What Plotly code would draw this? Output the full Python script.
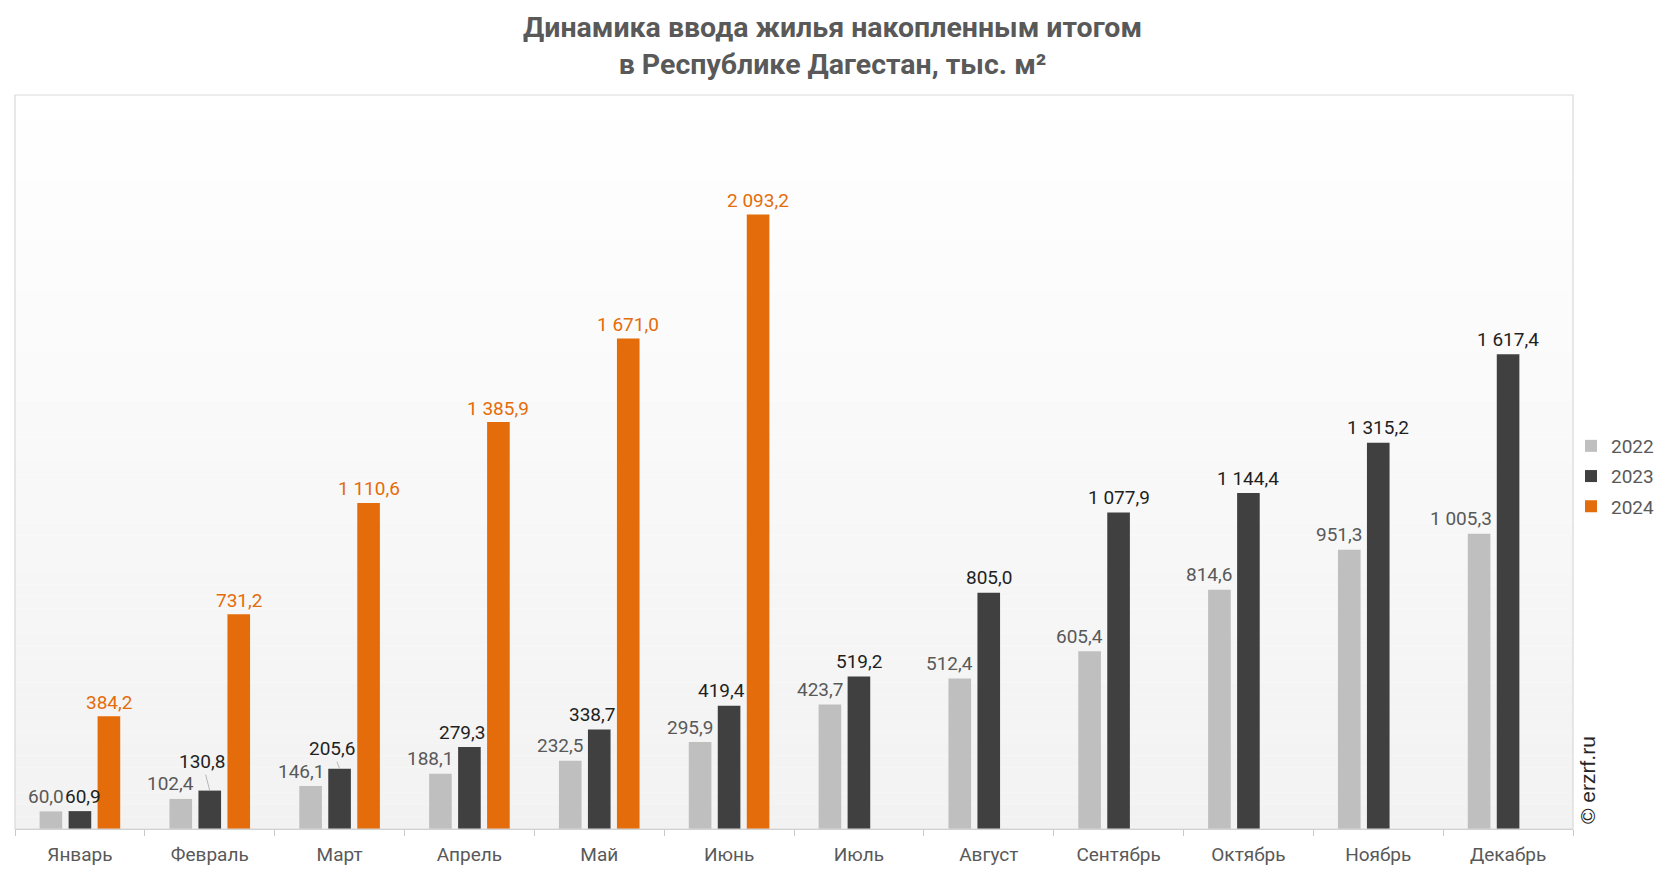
import plotly.graph_objects as go

# ---------------- data ----------------
months = ["Январь", "Февраль", "Март", "Апрель", "Май", "Июнь",
          "Июль", "Август", "Сентябрь", "Октябрь", "Ноябрь", "Декабрь"]
years = ["2022", "2023", "2024"]
v2022 = [60.0, 102.4, 146.1, 188.1, 232.5, 295.9, 423.7, 512.4, 605.4, 814.6, 951.3, 1005.3]
v2023 = [60.9, 130.8, 205.6, 279.3, 338.7, 419.4, 519.2, 805.0, 1077.9, 1144.4, 1315.2, 1617.4]
v2024 = [384.2, 731.2, 1110.6, 1385.9, 1671.0, 2093.2, None, None, None, None, None, None]
title_lines = ["Динамика ввода жилья накопленным итогом", "в Республике Дагестан, тыс. м²"]
watermark = "© erzrf.ru"

# ---------------- style ----------------
OFF = 8                      # page body margin of the html page
W, H = 1666 - OFF, 872 - OFF
# plot area in page pixels: x 15..1573, y 95..829
ML, MT = 15 - OFF, 95 - OFF
MR, MB = (1666 - 1573), (872 - 829)
PW, PH = W - ML - MR, H - MT - MB
bar_colors = ["#BFBFBF", "#404040", "#E46C0A"]
label_colors = ["#595959", "#1F1F1F", "#E46C0A"]
FONT = "Roboto, 'Noto Sans', sans-serif"
PITCH = 29  # px between neighbouring bars of a group
FS = 19


def px_x(page_x):
    return (page_x - OFF - ML) / PW


def px_y(page_y):
    return (H - MB - (page_y - OFF)) / PH


def fmt(v):
    s = f"{v:,.1f}"
    return s.replace(",", " ").replace(".", ",")


fig = go.Figure()
for name, vals, col in zip(years, [v2022, v2023, v2024], bar_colors):
    fig.add_trace(go.Bar(
        x=months, y=vals, name=name, legendgroup=name,
        marker=dict(color=col, line=dict(width=0)),
        hoverinfo="skip",
    ))

# gradient background of plot area (white -> light grey)
shapes = []
NB = 60
for i in range(NB):
    t = (i + 0.5) / NB  # 0 at top, 1 at bottom
    c = round(255 - (255 - 242) * t)
    shapes.append(dict(
        type="rect", xref="paper", yref="paper", layer="below",
        x0=0, x1=1, y0=1 - (i + 1) / NB, y1=1 - i / NB,
        fillcolor=f"rgb({c},{c},{c})", line=dict(width=0),
    ))
# border of plot area
shapes.append(dict(type="rect", xref="paper", yref="paper", layer="above",
                   x0=0, x1=1, y0=0, y1=1,
                   line=dict(color="#D9D9D9", width=1.2), fillcolor="rgba(0,0,0,0)"))

annotations = []
# title
annotations.append(dict(
    x=px_x(832), y=px_y(46), xref="paper", yref="paper",
    text="<b>" + title_lines[0] + "</b><br><b>" + title_lines[1] + "</b>",
    showarrow=False, xanchor="center", yanchor="middle", align="center",
    font=dict(family=FONT, size=28.5, color="#595959"),
))
# 2022 labels (right-aligned near bar)
for m, v in zip(months, v2022):
    annotations.append(dict(
        x=m, y=v, xref="x", yref="y", text=fmt(v), showarrow=False,
        xanchor="right", yanchor="middle", xshift=-PITCH + 15, yshift=15,
        font=dict(family=FONT, size=FS, color=label_colors[0]),
    ))
# 2023 labels
for i, (m, v) in enumerate(zip(months, v2023)):
    if i == 0:
        dx = 3
    elif v2024[i] is not None:
        dx = -7.5
    else:
        dx = 0
    if m in ("Февраль", "Март"):
        ay = -29 if m == "Февраль" else -20
        annotations.append(dict(
            x=m, y=v, xref="x", yref="y", text=fmt(v), showarrow=True,
            arrowhead=0, arrowwidth=0.8, arrowcolor="#A6A6A6", standoff=0,
            ax=dx, ay=ay, xanchor="center", yanchor="middle",
            font=dict(family=FONT, size=FS, color=label_colors[1]),
        ))
    else:
        annotations.append(dict(
            x=m, y=v, xref="x", yref="y", text=fmt(v), showarrow=False,
            xanchor="center", yanchor="middle", xshift=dx, yshift=15,
            font=dict(family=FONT, size=FS, color=label_colors[1]),
        ))
# 2024 labels
for m, v in zip(months, v2024):
    if v is None:
        continue
    annotations.append(dict(
        x=m, y=v, xref="x", yref="y", text=fmt(v), showarrow=False,
        xanchor="center", yanchor="middle", xshift=PITCH, yshift=14,
        font=dict(family=FONT, size=FS, color=label_colors[2]),
    ))
# watermark
annotations.append(dict(
    x=px_x(1587), y=px_y(780),
    xref="paper", yref="paper", text=watermark, showarrow=False, textangle=-90,
    xanchor="center", yanchor="middle",
    font=dict(family="'Liberation Sans', Arial, sans-serif", size=21, color="#262626"),
))

fig.update_layout(
    width=W, height=H,
    margin=dict(l=ML, r=MR, t=MT, b=MB, pad=0, autoexpand=False),
    paper_bgcolor="white", plot_bgcolor="rgba(0,0,0,0)",
    barmode="group", bargap=0.33, bargroupgap=0.22,
    xaxis=dict(
        type="category", showgrid=False, zeroline=False,
        showline=True, linecolor="#C8C8C8", linewidth=1.2,
        ticks="outside", tickson="boundaries", ticklen=6, tickcolor="#C8C8C8", tickwidth=1.2,
        tickfont=dict(family=FONT, size=FS, color="#595959"),
        ticklabelstandoff=8, fixedrange=True, automargin=False,
    ),
    yaxis=dict(range=[0, 2500], visible=False, showgrid=False, zeroline=False,
               fixedrange=True, automargin=False),
    legend=dict(
        xref="container", yref="container",
        x=(1571 - OFF) / W, xanchor="left", y=1 - (427 - OFF) / H, yanchor="top",
        font=dict(family=FONT, size=FS, color="#595959"),
        tracegroupgap=2.5, bgcolor="rgba(0,0,0,0)",
    ),
    shapes=shapes,
    annotations=annotations,
    showlegend=True,
)

fig.write_html("out.html")
